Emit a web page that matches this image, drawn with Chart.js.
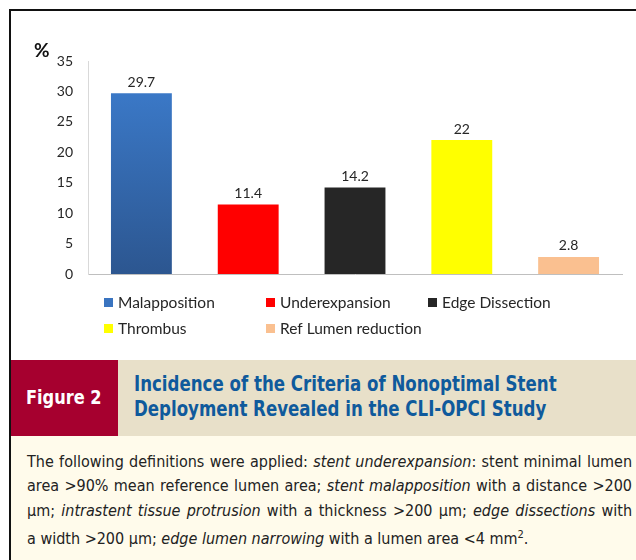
<!DOCTYPE html>
<html>
<head>
<meta charset="utf-8">
<script src="https://cdn.jsdelivr.net/npm/chart.js@4.4.1/dist/chart.umd.min.js"></script>
<style>
  body { margin: 0; background: #fff; width: 636px; height: 560px; position: relative; overflow: hidden; }
  #grafica { position: absolute; left: 0; top: 0; }
  #marco { position: absolute; left: 9px; top: 9px; width: 640px; height: 560px; border-left: 2px solid #111; border-top: 2px solid #111; pointer-events: none; }
  #banda { position: absolute; left: 11px; top: 360px; width: 625px; height: 76px; background: #E8E0C9; }
  #figura { position: absolute; left: 0; top: 0; width: 107px; height: 76px; background: #A6002F; }
  #figuraTxt { position: absolute; left: 15px; top: 25px; color: #fff; white-space: nowrap;
    font: bold 20px "DejaVu Sans Condensed", Roboto, sans-serif; line-height: 25px; transform: scaleX(0.9); transform-origin: left top; }
  #titulo { position: absolute; left: 123px; top: 12px; color: #0F5A9C; white-space: nowrap; font: bold 21px "DejaVu Sans Condensed", Roboto, sans-serif;
    line-height: 25px; transform: scaleX(0.88); transform-origin: left top; }
  #texto { position: absolute; left: 11px; top: 436px; width: 625px; height: 124px; background: #FFFBEB; }
  #cuerpo { position: absolute; left: 16px; top: 14px; width: 605px; color: #222; font: 16px "DejaVu Sans Condensed", Roboto, sans-serif; line-height: 24.3px; }
  .linea { text-align: justify; text-align-last: justify; }
  .ultima { text-align: left; }
</style>
</head>
<body>
<canvas id="grafica" width="636" height="352"></canvas>
<div id="banda">
  <div id="figura"><div id="figuraTxt">Figure 2</div></div>
  <div id="titulo">Incidence of the Criteria of Nonoptimal Stent<br>Deployment Revealed in the CLI-OPCI Study</div>
</div>
<div id="texto">
  <div id="cuerpo">
    <div class="linea">The following definitions were applied: <i>stent underexpansion</i>: stent minimal lumen</div>
    <div class="linea">area &gt;90% mean reference lumen area; <i>stent malapposition</i> with a distance &gt;200</div>
    <div class="linea">µm; <i>intrastent tissue protrusion</i> with a thickness &gt;200 µm; <i>edge dissections</i> with</div>
    <div class="ultima">a width &gt;200 µm; <i>edge lumen narrowing</i> with a lumen area &lt;4 mm<sup style="font-size:11px">2</sup>.</div>
  </div>
</div>
<div id="marco"></div>
<script>
// Datos
const categorias = ["Malapposition", "Underexpansion", "Edge Dissection", "Thrombus", "Ref Lumen reduction"]
const valores = [29.7, 11.4, 14.2, 22, 2.8]
const colores = ["#3A74C0", "#FF0000", "#262626", "#FFFF00", "#FAC090"]
const ejeMin = 0
const ejeMax = 35
const ejePaso = 5

const fuente = "Lato, 'Open Sans', sans-serif"

// color con degradado para la primera barra
function colorBarra(ctx) {
    const i = ctx.dataIndex
    if (i !== 0) return colores[i]
    const area = ctx.chart.chartArea
    if (!area) return colores[0]
    const grad = ctx.chart.ctx.createLinearGradient(0, area.top, 0, area.bottom)
    grad.addColorStop(0, "#3D7ED0")
    grad.addColorStop(1, "#2C5690")
    return grad
}

// etiquetas, simbolo % y leyenda
const extras = {
    id: "extras",
    afterDatasetsDraw(chart) {
        const ctx = chart.ctx
        const meta = chart.getDatasetMeta(0)
        ctx.save()
        ctx.fillStyle = "#262626"
        ctx.font = "14px " + fuente
        ctx.textAlign = "center"
        ctx.textBaseline = "bottom"
        meta.data.forEach((barra, i) => {
            ctx.fillText(String(valores[i]), barra.x, barra.y - 4)
        })
        ctx.font = "bold 19px " + fuente
        ctx.textAlign = "left"
        ctx.textBaseline = "middle"
        ctx.fillStyle = "#111"
        ctx.fillText("%", 34, 51)

        // leyenda en columnas
        ctx.font = "15.5px " + fuente
        categorias.forEach((nombre, i) => {
            const col = i % 3
            const fila = Math.floor(i / 3)
            const x = 104 + col * 162
            const y = 302 + fila * 26
            ctx.fillStyle = i === 0 ? "#3A74C0" : colores[i]
            ctx.fillRect(x, y - 4, 9, 9)
            ctx.fillStyle = "#262626"
            ctx.fillText(nombre, x + 14, y + 1)
        })
        ctx.restore()
    }
}

const config = {
    type: "bar",
    data: {
        labels: categorias,
        datasets: [{
            data: valores,
            backgroundColor: colorBarra,
            borderWidth: 0,
            barPercentage: 0.57,
            categoryPercentage: 1
        }]
    },
    options: {
        responsive: false,
        devicePixelRatio: 1,
        animation: false,
        layout: { padding: { top: 61, right: 14, bottom: 78, left: 0 } },
        plugins: {
            legend: { display: false },
            tooltip: { enabled: false }
        },
        scales: {
            x: {
                grid: { display: false, drawTicks: false },
                border: { display: true, color: "#BFBFBF", width: 1 },
                ticks: { display: false },
                afterFit: (scale) => { scale.height = 0 }
            },
            y: {
                min: ejeMin,
                max: ejeMax,
                grid: { display: false, drawTicks: false },
                border: { display: true, color: "#D9D9D9", width: 1 },
                ticks: {
                    stepSize: ejePaso,
                    padding: 15,
                    color: "#262626",
                    font: { family: fuente, size: 14 }
                },
                afterFit: (scale) => { scale.width = 88 }
            }
        }
    },
    plugins: [extras]
}

new Chart(document.querySelector("#grafica"), config)
</script>
</body>
</html>
